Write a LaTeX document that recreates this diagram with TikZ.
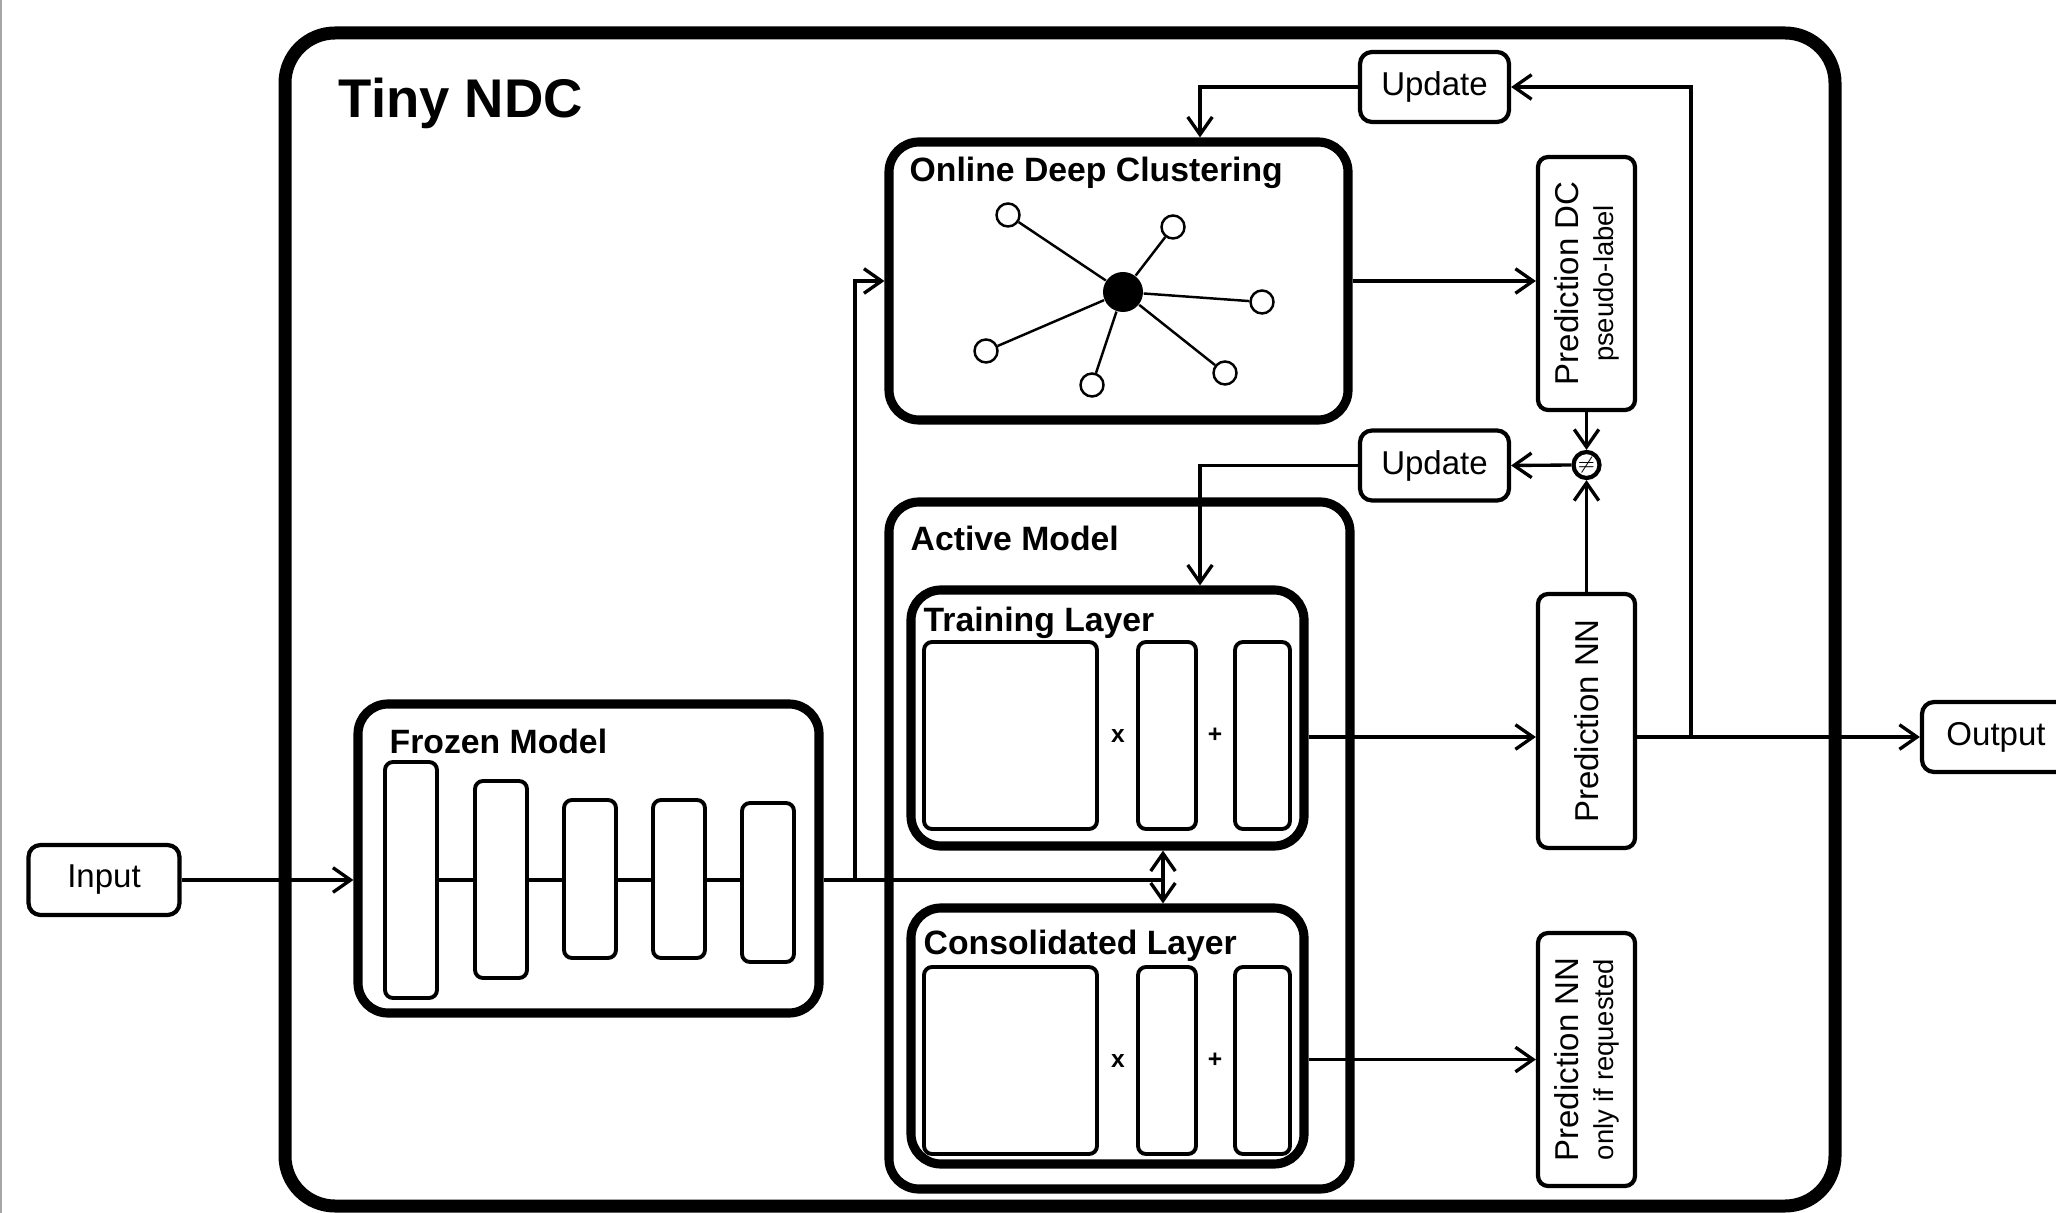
\documentclass[tikz,border=0pt]{standalone}
\usepackage{fontspec}
\setmainfont{Liberation Sans}
\usetikzlibrary{arrows.meta,positioning}

\begin{document}
\begin{tikzpicture}[x=1cm,y=-1cm,
  >={Straight Barb[length=5pt,width=7pt]},
  font=\fontsize{9.4}{11}\selectfont,
  conn/.style={line width=0.95pt},
  bigbox/.style={draw,line width=2.6pt,rounded corners=0.3cm,inner sep=0pt},
  layerbox/.style={draw,line width=1.1pt,rounded corners=0.08cm,inner sep=0pt},
  iobox/.style={draw,line width=1.2pt,rounded corners=0.12cm,minimum width=1.49cm,minimum height=0.7cm,inner sep=0pt},
  predbox/.style={draw,line width=1.2pt,rounded corners=0.1cm,minimum width=0.97cm,minimum height=2.53cm,inner sep=0pt},
  title/.style={anchor=west,font=\fontsize{9.6}{11}\selectfont\bfseries,inner sep=0pt},
  dot/.style={circle,draw,line width=0.7pt,fill=white,minimum size=0.23cm,inner sep=0pt},
  op/.style={font=\fontsize{7}{8}\selectfont\bfseries,inner sep=0pt}]
\useasboundingbox (0,0) rectangle (20.56,12.13);
\clip (0,0) rectangle (20.56,12.13);
\draw[gray!70,line width=0.6pt] (0.01,0) -- (0.01,12.13);

\node[draw,line width=3.7pt,rounded corners=0.5cm,minimum width=15.5cm,minimum height=11.73cm] (ndc) at (10.6,6.195) {};
\node[title,font=\fontsize{15.5}{18}\selectfont\bfseries] (ndclbl) at (3.38,1.03) {Tiny NDC};

\node[iobox,minimum width=1.51cm] (input) at (1.04,8.80) {Input};
\node[bigbox,minimum width=4.61cm,minimum height=3.09cm] (frozen) at (5.885,8.585) {};
\node[title] (frozenlbl) at (3.89,7.41) {Frozen Model};
\foreach \n/\x/\y/\h in {1/4.11/8.80/2.36,2/5.01/8.795/1.97,3/5.90/8.79/1.58,4/6.79/8.79/1.58,5/7.68/8.825/1.59}
  \node[layerbox,minimum width=0.52cm,minimum height=\h cm] (f\n) at (\x,\y) {};
\foreach \a/\b in {f1/f2,f2/f3,f3/f4,f4/f5}
  \draw[conn] (\a.east |- input) -- (\b.west |- input);
\draw[conn,->] (input.east) -- (frozen.west |- input);

\node[bigbox,minimum width=4.59cm,minimum height=2.78cm] (odc) at (11.185,2.81) {};
\node[title] (odclbl) at (9.09,1.73) {Online Deep Clustering};
\node[circle,fill=black,minimum size=0.4cm,inner sep=0pt] (c0) at (11.23,2.92) {};
\foreach \i/\p in {1/{10.08,2.15},2/{11.73,2.27},3/{12.62,3.02},4/{12.25,3.73},5/{10.92,3.85},6/{9.86,3.51}}
{
  \node[dot] (c\i) at (\p) {};
  \draw[line width=0.7pt] (c0) -- (c\i);
}

\node[bigbox,minimum width=4.61cm,minimum height=6.87cm] (active) at (11.195,8.455) {};
\node[title] (activelbl) at (9.10,5.38) {Active Model};
\node[bigbox,minimum width=3.93cm,minimum height=2.56cm] (train) at (11.075,7.18) {};
\node[title] (trainlbl) at (9.23,6.23) {Training Layer};
\node[bigbox,minimum width=3.93cm,minimum height=2.56cm] (cons) at (11.075,10.36) {};
\node[title] (conslbl) at (9.23,9.46) {Consolidated Layer};
\foreach \l/\y in {t/7.355,c/10.605}
{
  \node[layerbox,minimum width=1.73cm,minimum height=1.87cm] (w\l) at (10.105,\y) {};
  \node[layerbox,minimum width=0.58cm,minimum height=1.87cm] (x\l) at (11.67,\y) {};
  \node[layerbox,minimum width=0.55cm,minimum height=1.87cm] (b\l) at (12.625,\y) {};
  \node[op] (mul\l) at (11.18,\y) {x};
  \node[op] (add\l) at (12.15,\y) {+};
}

\coordinate (split) at (8.55,8.80);
\coordinate (feed) at (11.63,8.80);
\draw[conn] (frozen.east |- input) -- (feed);
\draw[conn,->] (split) -- (split |- odc.west) -- (odc.west);
\draw[conn,<->] (feed |- train.south) -- (feed |- cons.north);

\node[predbox] (pdc) at (15.865,2.835) {};
\node[rotate=90,align=center,inner sep=0pt] (pdctxt) at (pdc) {Prediction DC\\[-1pt]{\fontsize{7.8}{9}\selectfont pseudo-label}};
\node[predbox,minimum height=2.54cm] (pnn) at (15.865,7.21) {};
\node[rotate=90,inner sep=0pt] (pnntxt) at (pnn) {Prediction NN};
\node[predbox] (pnn2) at (15.865,10.595) {};
\node[rotate=90,align=center,inner sep=0pt] (pnn2txt) at (pnn2) {Prediction NN\\[-1pt]{\fontsize{7.8}{9}\selectfont only if requested}};

\node[iobox] (upd1) at (14.345,0.87) {Update};
\node[iobox] (upd2) at (14.345,4.655) {Update};
\node[circle,draw,line width=1.2pt,minimum size=0.26cm,inner sep=0pt,font=\fontsize{5}{5}\selectfont] (cmp) at (15.865,4.65) {$\neq$};
\node[iobox,minimum width=1.48cm] (out) at (19.96,7.37) {Output};

\draw[conn,->] (odc.east) -- (pdc.west |- odc.east);
\draw[conn,->] (pdc.south) -- (cmp.north);
\draw[conn,->] (pnn.north) -- (cmp.south);
\draw[conn,->] (cmp.west) -- (upd2.east);
\draw[conn,->] (upd2.west) -| ([xshift=0.925cm]train.north);
\draw[conn,->] (upd1.west) -| ([xshift=0.815cm]odc.north);
\draw[conn,->] (train.east |- out) -- (pnn.west |- out);
\draw[conn,->] (pnn.east |- out) -- (out.west);
\coordinate (tap) at (16.91,7.37);
\draw[conn,->] (tap) -- (tap |- upd1.east) -- (upd1.east);
\draw[conn,->] (cons.east |- pnn2.west) -- (pnn2.west);
\end{tikzpicture}
\end{document}
